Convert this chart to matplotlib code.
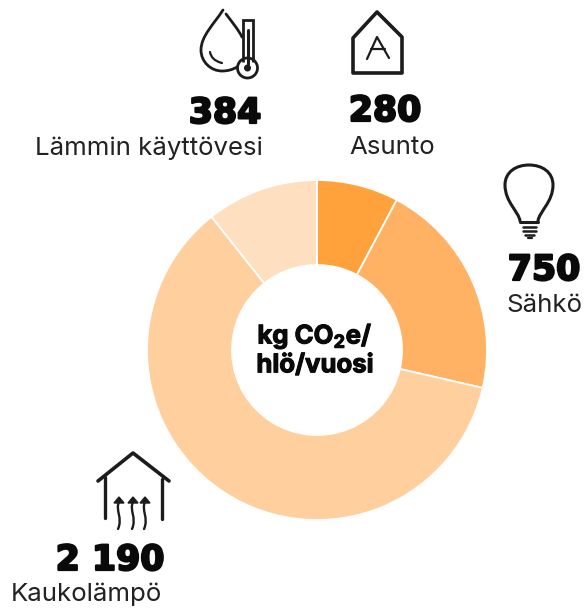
"""Donitsi: asumisen päästöt, kg CO2e / hlö / vuosi."""
import numpy as np
import matplotlib
matplotlib.use('Agg')
import matplotlib.pyplot as plt
import matplotlib.patheffects as pe
from matplotlib.path import Path
from matplotlib.patches import PathPatch, Circle, Polygon

categories = ['Asunto', 'Sähkö', 'Kaukolämpö', 'Lämmin käyttövesi']
values = [280, 750, 2190, 384]
value_labels = ['280', '750', '2 190', '384']
colors = ['#FFA23C', '#FFB263', '#FFCF9E', '#FEDFC0']

W, H = 584, 610
INK = '#1c1c1c'
NUM = dict(family=['DejaVu Sans'], fontweight='bold', fontsize=25, color='#0a0a0a',
           path_effects=[pe.withStroke(linewidth=1.6, foreground='#0a0a0a')])
LAB = dict(family=['Inter', 'DejaVu Sans'], fontsize=18.6, color='#222222')

fig = plt.figure(figsize=(W / 100, H / 100), dpi=100, facecolor='white')

# donitsi
ax = fig.add_axes([147 / W, (H - 520) / H, 340 / W, 340 / H])
ax.pie(values, colors=colors, startangle=90, counterclock=False, radius=1,
       wedgeprops=dict(width=0.5, edgecolor='white', linewidth=1.3))
ax.set_xlim(-1, 1)
ax.set_ylim(-1, 1)

# ikonit ja tekstit pikselikoordinaateissa
ov = fig.add_axes([0, 0, 1, 1], facecolor='none')
ov.set_xlim(0, W)
ov.set_ylim(H, 0)
ov.axis('off')


def line(xs, ys, lw=2.0):
    ov.plot(xs, ys, color=INK, lw=lw, solid_capstyle='round', solid_joinstyle='round')


def curve(verts, lw=2.0):
    codes = [Path.MOVETO] + [Path.CURVE4] * (len(verts) - 1)
    ov.add_patch(PathPatch(Path(verts, codes), fc='none', ec=INK, lw=lw, capstyle='round'))


# pisara + lämpömittari
curve([(223, 10), (214, 24), (201, 36), (201, 50),
       (201, 62), (211, 71), (222, 71), (227, 71), (232, 70), (237, 67)])
curve([(226, 14), (232, 22), (238, 29), (242, 37)])
curve([(210, 52), (211, 57), (214, 61), (222, 63)], lw=1.6)
ov.add_patch(Polygon([(243, 62), (243, 20), (253, 20), (253, 62)], closed=False, fc='none', ec=INK, lw=2))
ov.add_patch(Circle((247.5, 68), 10, fc='none', ec=INK, lw=2))
line([248, 248], [30, 64], lw=2.2)
ov.add_patch(Circle((247.5, 68), 3.5, fc=INK, ec='none'))

# talo, A
ov.add_patch(Polygon([(353, 38), (377, 12), (402, 37), (402, 73), (353, 73)], closed=True,
                     fc='none', ec=INK, lw=2.6, joinstyle='round'))
line([367, 377, 389], [59, 37, 58], lw=1.6)
line([371, 385], [49, 49], lw=1.6)

# hehkulamppu
curve([(520, 221), (519, 212), (505, 202), (505, 185),
       (505, 172), (516, 165), (529, 165), (542, 165), (553, 172), (553, 185),
       (553, 202), (539, 212), (538, 221)], lw=2.2)
line([520, 538], [222, 222], lw=2.2)
line([523, 536], [227, 227], lw=1.8)
line([523, 536], [231, 231], lw=1.8)
line([525, 534], [235, 235], lw=1.8)
line([528, 532], [238, 238], lw=1.6)

# kaukolämpö, talo ja nuolet
line([98, 133, 169], [481, 453, 481], lw=2.6)
line([105, 105], [477, 518], lw=2.4)
line([162, 162], [479, 519], lw=2.4)
for x in [119, 133, 145]:
    curve([(x, 502), (x - 4, 510), (x + 4, 518), (x - 1, 529)], lw=1.7)
    ov.add_patch(Polygon([(x - 5, 503), (x, 497), (x + 5, 503)], closed=True, fc=INK, ec=INK, lw=1))

# arvot ja nimet
ov.text(225, 113, value_labels[3], ha='center', va='center', **NUM)
ov.text(385, 111, value_labels[0], ha='center', va='center', **NUM)
ov.text(544, 270, value_labels[1], ha='center', va='center', **NUM)
ov.text(110, 560, value_labels[2], ha='center', va='center', **NUM)
ov.text(148.5, 148, categories[3], ha='center', va='center', **LAB)
ov.text(392.5, 148, categories[0], ha='center', va='center', **LAB)
ov.text(544.5, 306, categories[1], ha='center', va='center', **LAB)
ov.text(86, 594, categories[2], ha='center', va='center', **LAB)

# keskiteksti
ov.text(315, 350, 'kg CO$\\mathregular{_2}$e/\nhlö/vuosi', ha='center', va='center',
        family=['Inter', 'DejaVu Sans'], fontweight='bold', fontsize=18.5, color='#0a0a0a',
        linespacing=1.2, path_effects=[pe.withStroke(linewidth=0.8, foreground='#0a0a0a')])

fig.savefig('out.png', dpi=100, facecolor='white')
